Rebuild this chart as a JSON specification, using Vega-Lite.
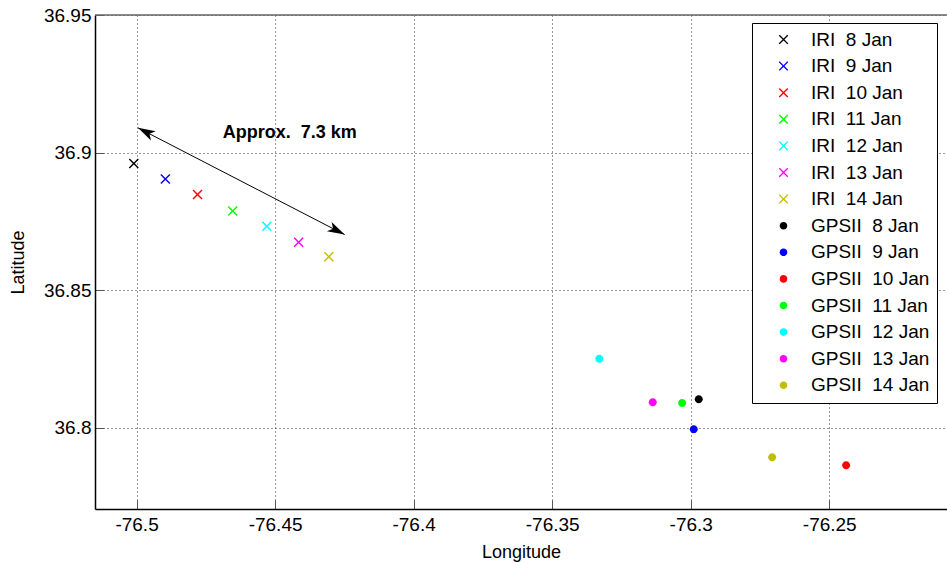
{
  "$schema": "https://vega.github.io/schema/vega-lite/v6.json",
  "width": 852,
  "height": 494,
  "autosize": "none",
  "padding": {"left": 95, "top": 15, "right": 0, "bottom": 54},
  "background": "white",
  "config": {
    "font": "Liberation Sans",
    "view": {"stroke": null},
    "axis": {
      "labelFont": "Liberation Sans",
      "titleFont": "Liberation Sans",
      "labelFontSize": 19,
      "titleFontSize": 18,
      "titleFontWeight": "normal",
      "labelColor": "black",
      "titleColor": "black",
      "domainColor": "black",
      "domainWidth": 1.5,
      "tickColor": "#555",
      "tickSize": -9,
      "gridColor": "#333",
      "gridDash": [1, 3],
      "gridWidth": 1
    }
  },
  "datasets": {
    "pts": [
      {"label": "IRI\u00a0 8 Jan", "lon": -76.501, "lat": 36.896},
      {"label": "IRI\u00a0 9 Jan", "lon": -76.4896, "lat": 36.8904},
      {"label": "IRI\u00a0 10 Jan", "lon": -76.478, "lat": 36.8848},
      {"label": "IRI\u00a0 11 Jan", "lon": -76.4653, "lat": 36.8788},
      {"label": "IRI\u00a0 12 Jan", "lon": -76.453, "lat": 36.8732},
      {"label": "IRI\u00a0 13 Jan", "lon": -76.4415, "lat": 36.8674},
      {"label": "IRI\u00a0 14 Jan", "lon": -76.4306, "lat": 36.8622},
      {"label": "GPSII\u00a0 8 Jan", "lon": -76.2971, "lat": 36.8104},
      {"label": "GPSII\u00a0 9 Jan", "lon": -76.2989, "lat": 36.7995},
      {"label": "GPSII\u00a0 10 Jan", "lon": -76.2439, "lat": 36.7864},
      {"label": "GPSII\u00a0 11 Jan", "lon": -76.3031, "lat": 36.809},
      {"label": "GPSII\u00a0 12 Jan", "lon": -76.333, "lat": 36.8251},
      {"label": "GPSII\u00a0 13 Jan", "lon": -76.3137, "lat": 36.8093},
      {"label": "GPSII\u00a0 14 Jan", "lon": -76.2706, "lat": 36.7893}
    ],
    "arrow": [
      {"lon1": -76.4995, "lat1": 36.909, "lon2": -76.4249, "lat2": 36.8702}
    ],
    "heads": [
      {"lon": -76.4995, "lat": 36.909, "dir": 297.3},
      {"lon": -76.4249, "lat": 36.8702, "dir": 117.3}
    ],
    "note": [
      {"lon": -76.4447, "lat": 36.9073, "text": "Approx.\u00a0 7.3 km"}
    ]
  },
  "layer": [
    {
      "data": {"name": "arrow"},
      "mark": {"type": "rule", "color": "black", "strokeWidth": 1},
      "encoding": {
        "x": {"field": "lon1", "type": "quantitative", "scale": {"domain": [-76.515, -76.2075], "nice": false, "zero": false},
          "axis": {"values": [-76.5, -76.45, -76.4, -76.35, -76.3, -76.25], "grid": true, "title": "Longitude", "titlePadding": 9, "labelPadding": 15, "labelExpr": "'' + datum.value", "labelFlush": false}},
        "y": {"field": "lat1", "type": "quantitative", "scale": {"domain": [36.7705, 36.95], "nice": false, "zero": false},
          "axis": {"values": [36.8, 36.85, 36.9, 36.95], "grid": true, "title": "Latitude", "titlePadding": 16, "labelPadding": 13, "labelExpr": "'' + datum.value", "labelFlush": false}},
        "x2": {"field": "lon2"},
        "y2": {"field": "lat2"}
      }
    },
    {
      "data": {"name": "heads"},
      "mark": {"type": "point", "filled": true, "color": "black", "opacity": 1, "size": 1200,
        "shape": "M0,0L0.3,1L0,0.75L-0.3,1Z"},
      "encoding": {
        "x": {"field": "lon", "type": "quantitative"},
        "y": {"field": "lat", "type": "quantitative"},
        "angle": {"field": "dir", "type": "quantitative", "scale": null}
      }
    },
    {
      "data": {"name": "note"},
      "mark": {"type": "text", "fontWeight": "bold", "fontSize": 18, "font": "Liberation Sans", "color": "black", "align": "center", "baseline": "middle"},
      "encoding": {
        "x": {"field": "lon", "type": "quantitative"},
        "y": {"field": "lat", "type": "quantitative"},
        "text": {"field": "text"}
      }
    },
    {
      "data": {"name": "pts"},
      "mark": {"type": "point", "filled": true, "opacity": 1, "size": 100},
      "encoding": {
        "x": {"field": "lon", "type": "quantitative"},
        "y": {"field": "lat", "type": "quantitative"},
        "color": {
          "field": "label", "type": "nominal",
          "scale": {
            "domain": ["IRI\u00a0 8 Jan", "IRI\u00a0 9 Jan", "IRI\u00a0 10 Jan", "IRI\u00a0 11 Jan", "IRI\u00a0 12 Jan", "IRI\u00a0 13 Jan", "IRI\u00a0 14 Jan", "GPSII\u00a0 8 Jan", "GPSII\u00a0 9 Jan", "GPSII\u00a0 10 Jan", "GPSII\u00a0 11 Jan", "GPSII\u00a0 12 Jan", "GPSII\u00a0 13 Jan", "GPSII\u00a0 14 Jan"],
            "range": ["#000000", "#0000ff", "#ff0000", "#00ff00", "#00ffff", "#ff00ff", "#bfbf00", "#000000", "#0000ff", "#ff0000", "#00ff00", "#00ffff", "#ff00ff", "#bfbf00"]
          },
          "legend": {
            "title": null, "orient": "none", "legendX": 657, "legendY": 8,
            "direction": "vertical", "columns": 1,
            "strokeColor": "black", "fillColor": "white", "padding": 7,
            "labelFontSize": 19, "labelFont": "Liberation Sans", "labelColor": "black",
            "labelOffset": 18, "symbolOffset": 15, "rowPadding": 6.6,
            "symbolSize": 90, "symbolStrokeWidth": 0, "symbolOpacity": 1, "labelLimit": 300
          }
        },
        "shape": {
          "field": "label", "type": "nominal",
          "scale": {
            "domain": ["IRI\u00a0 8 Jan", "IRI\u00a0 9 Jan", "IRI\u00a0 10 Jan", "IRI\u00a0 11 Jan", "IRI\u00a0 12 Jan", "IRI\u00a0 13 Jan", "IRI\u00a0 14 Jan", "GPSII\u00a0 8 Jan", "GPSII\u00a0 9 Jan", "GPSII\u00a0 10 Jan", "GPSII\u00a0 11 Jan", "GPSII\u00a0 12 Jan", "GPSII\u00a0 13 Jan", "GPSII\u00a0 14 Jan"],
            "range": [
              "M-1,-0.8L-0.8,-1L0,-0.2L0.8,-1L1,-0.8L0.2,0L1,0.8L0.8,1L0,0.2L-0.8,1L-1,0.8L-0.2,0Z",
              "M-1,-0.8L-0.8,-1L0,-0.2L0.8,-1L1,-0.8L0.2,0L1,0.8L0.8,1L0,0.2L-0.8,1L-1,0.8L-0.2,0Z",
              "M-1,-0.8L-0.8,-1L0,-0.2L0.8,-1L1,-0.8L0.2,0L1,0.8L0.8,1L0,0.2L-0.8,1L-1,0.8L-0.2,0Z",
              "M-1,-0.8L-0.8,-1L0,-0.2L0.8,-1L1,-0.8L0.2,0L1,0.8L0.8,1L0,0.2L-0.8,1L-1,0.8L-0.2,0Z",
              "M-1,-0.8L-0.8,-1L0,-0.2L0.8,-1L1,-0.8L0.2,0L1,0.8L0.8,1L0,0.2L-0.8,1L-1,0.8L-0.2,0Z",
              "M-1,-0.8L-0.8,-1L0,-0.2L0.8,-1L1,-0.8L0.2,0L1,0.8L0.8,1L0,0.2L-0.8,1L-1,0.8L-0.2,0Z",
              "M-1,-0.8L-0.8,-1L0,-0.2L0.8,-1L1,-0.8L0.2,0L1,0.8L0.8,1L0,0.2L-0.8,1L-1,0.8L-0.2,0Z",
              "M0.8,0A0.8,0.8 0 1,1 -0.8,0A0.8,0.8 0 1,1 0.8,0Z",
              "M0.8,0A0.8,0.8 0 1,1 -0.8,0A0.8,0.8 0 1,1 0.8,0Z",
              "M0.8,0A0.8,0.8 0 1,1 -0.8,0A0.8,0.8 0 1,1 0.8,0Z",
              "M0.8,0A0.8,0.8 0 1,1 -0.8,0A0.8,0.8 0 1,1 0.8,0Z",
              "M0.8,0A0.8,0.8 0 1,1 -0.8,0A0.8,0.8 0 1,1 0.8,0Z",
              "M0.8,0A0.8,0.8 0 1,1 -0.8,0A0.8,0.8 0 1,1 0.8,0Z",
              "M0.8,0A0.8,0.8 0 1,1 -0.8,0A0.8,0.8 0 1,1 0.8,0Z"
            ]
          }
        }
      }
    },
    {
      "data": {"name": "note"},
      "mark": {"type": "rule", "color": "#666", "strokeWidth": 1.5},
      "encoding": {
        "y": {"datum": 36.95, "type": "quantitative"}
      }
    }
  ]
}
